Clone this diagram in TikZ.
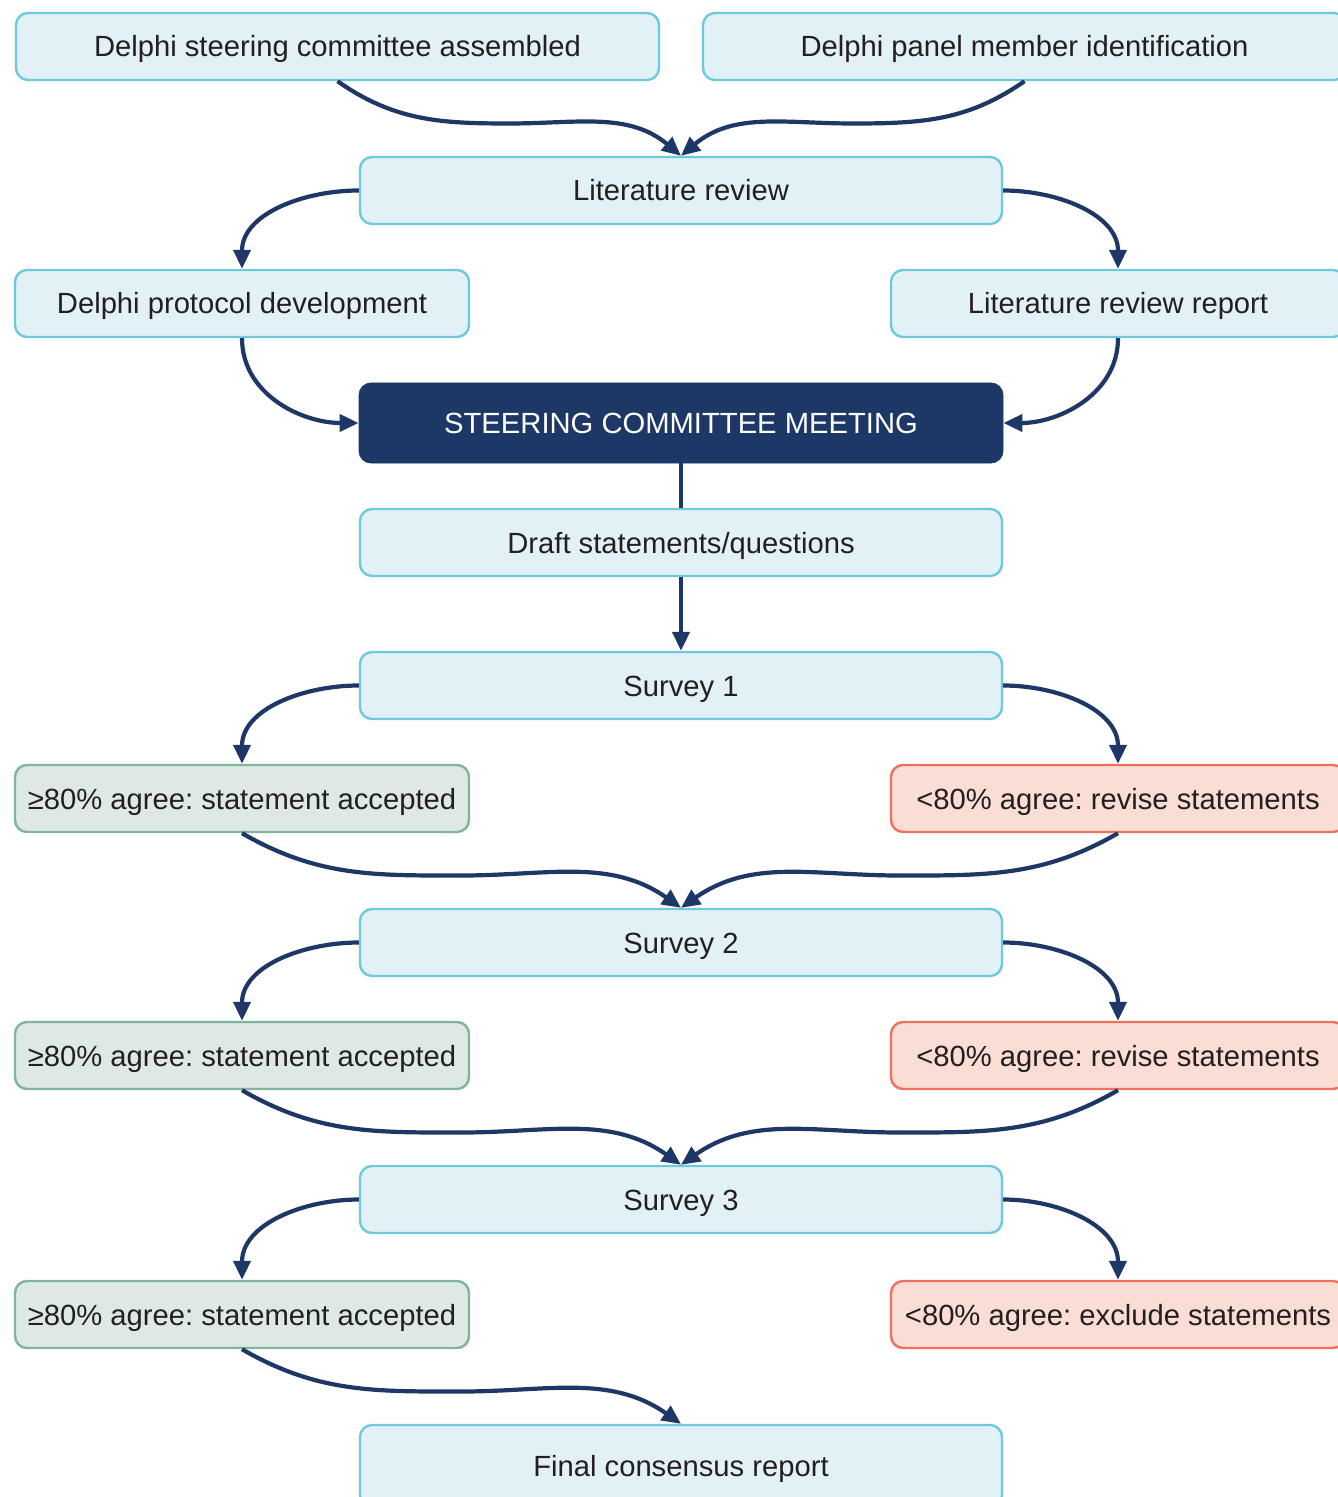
\documentclass[tikz,border=0pt]{standalone}
\usepackage{fontspec}
\setmainfont{Liberation Sans}
\usetikzlibrary{arrows.meta,calc}
\definecolor{bfill}{HTML}{E2F1F6}
\definecolor{bdraw}{HTML}{6EC9DD}
\definecolor{gfill}{HTML}{DFE9E3}
\definecolor{gdraw}{HTML}{7FB59C}
\definecolor{rfill}{HTML}{FADDD4}
\definecolor{rdraw}{HTML}{EE705F}
\definecolor{navy}{HTML}{1D3767}
\definecolor{txt}{HTML}{231F20}
\frenchspacing
\begin{document}
\begin{tikzpicture}[x=0.5pt,y=-0.5pt,
  box/.style={draw=bdraw, fill=bfill, line width=1.2pt, rounded corners=6pt,
    minimum height=33.5pt, text=txt, font=\fontsize{14.6}{17}\selectfont, inner sep=0pt,
    text height=10.5pt, text depth=0pt},
  gbox/.style={box, draw=gdraw, fill=gfill, minimum width=227pt},
  rbox/.style={box, draw=rdraw, fill=rfill, minimum width=227pt},
  wide/.style={box, minimum width=321pt},
  scm/.style={draw=navy, fill=navy, rounded corners=6pt, text=white,
    font=\fontsize{14.6}{17}\selectfont, inner sep=0pt, minimum width=322pt, minimum height=40pt,
    text height=10.5pt, text depth=0pt},
  conn/.style={draw=navy, line width=2.1pt, -{Triangle[length=9.5pt,width=8.5pt]}},
  plain/.style={draw=navy, line width=2.1pt},
]
\useasboundingbox (0,0) rectangle (1337,1497);

\node[box, minimum width=321.5pt] (A) at (337.5,46.5) {Delphi steering committee assembled};
\node[box, minimum width=321.5pt] (B) at (1024.5,46.5) {Delphi panel member identification};
\node[wide] (LR) at (681,190.5) {Literature review};
\node[box, minimum width=227pt] (DP) at (242,303.5) {Delphi protocol development};
\node[box, minimum width=227pt] (LRR) at (1118,303.5) {Literature review report};
\node[scm] (SCM) at (681,423) {STEERING COMMITTEE MEETING};
\node[wide] (DR) at (681,542.5) {Draft statements/questions};
\node[wide] (S1) at (681,685.5) {Survey 1};
\node[gbox] (G1) at (242,798.5) {≥80\% agree: statement accepted};
\node[rbox] (R1) at (1118,798.5) {<80\% agree: revise statements};
\node[wide] (S2) at (681,942.5) {Survey 2};
\node[gbox] (G2) at (242,1055.5) {≥80\% agree: statement accepted};
\node[rbox] (R2) at (1118,1055.5) {<80\% agree: revise statements};
\node[wide] (S3) at (681,1199.5) {Survey 3};
\node[gbox] (G3) at (242,1314.5) {≥80\% agree: statement accepted};
\node[rbox] (R3) at (1118,1314.5) {<80\% agree: exclude statements};
\node[wide, minimum height=41pt] (F) at (681,1466) {Final consensus report};

\draw[conn] (A.south) to[out=-35,in=180] ($(A.south)!0.5!(LR.north)+(0,5)$) to[out=0,in=140] (LR.north);
\draw[conn] (B.south) to[out=-145,in=0] ($(B.south)!0.5!(LR.north)+(0,5)$) to[out=180,in=40] (LR.north);
\draw[conn] (LR.west) to[out=180,in=90] (DP.north);
\draw[conn] (LR.east) to[out=0,in=90] (LRR.north);
\draw[conn] (DP.south) to[out=-90,in=180] (SCM.west);
\draw[conn] (LRR.south) to[out=-90,in=0] (SCM.east);
\draw[plain] (SCM.south) -- (DR.north);
\draw[conn] (DR.south) -- (S1.north);

\draw[conn] (S1.west) to[out=180,in=90] (G1.north);
\draw[conn] (S1.east) to[out=0,in=90] (R1.north);
\draw[conn] (G1.south) to[out=-30,in=180] ($(G1.south)!0.5!(S2.north)+(0,5)$) to[out=0,in=145] (S2.north);
\draw[conn] (R1.south) to[out=-150,in=0] ($(R1.south)!0.5!(S2.north)+(0,5)$) to[out=180,in=35] (S2.north);

\draw[conn] (S2.west) to[out=180,in=90] (G2.north);
\draw[conn] (S2.east) to[out=0,in=90] (R2.north);
\draw[conn] (G2.south) to[out=-30,in=180] ($(G2.south)!0.5!(S3.north)+(0,5)$) to[out=0,in=145] (S3.north);
\draw[conn] (R2.south) to[out=-150,in=0] ($(R2.south)!0.5!(S3.north)+(0,5)$) to[out=180,in=35] (S3.north);

\draw[conn] (S3.west) to[out=180,in=90] (G3.north);
\draw[conn] (S3.east) to[out=0,in=90] (R3.north);
\draw[conn] (G3.south) to[out=-30,in=180] ($(G3.south)!0.5!(F.north)+(0,5)$) to[out=0,in=145] (F.north);
\end{tikzpicture}
\end{document}
